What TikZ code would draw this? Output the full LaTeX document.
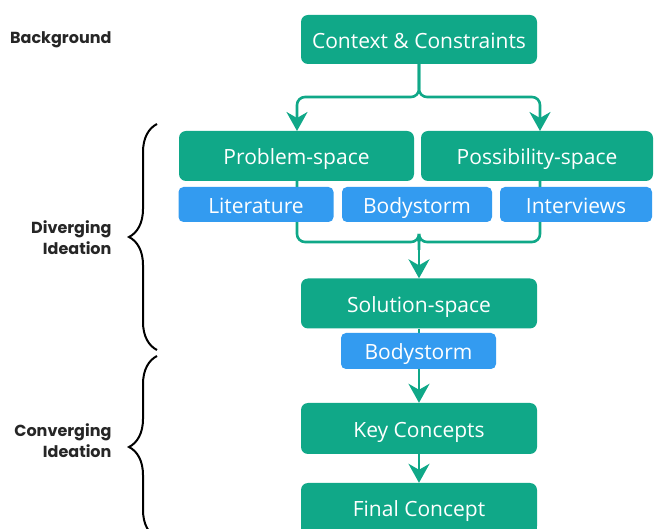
\documentclass[tikz,border=0pt]{standalone}
\usepackage{fontspec}
\setmainfont{Open Sans}
\newfontfamily\labelfont{Poppins}
\usetikzlibrary{arrows.meta,decorations.pathreplacing}
\definecolor{flowgreen}{RGB}{16,168,136}
\definecolor{flowblue}{RGB}{51,155,240}
\tikzset{
  boxtext/.style={text=white, font=\fontsize{21}{24}\selectfont, inner sep=0pt, text height=19pt, text depth=1.5pt},
  stage/.style={boxtext, fill=flowgreen, rounded corners=7pt},
  method/.style={boxtext, fill=flowblue, rounded corners=5pt},
  link/.style={draw=flowgreen, line width=2.6pt, rounded corners=8pt},
  flow/.style={link, -{Stealth[length=19pt, width=21pt, inset=6pt]}},
  phase/.style={font=\labelfont\bfseries\fontsize{16}{21}\selectfont, align=right, anchor=east, text=black!85},
  brace/.style={draw=black, line width=2pt, decorate, decoration={brace, amplitude=28pt, aspect=0.5}}
}
\begin{document}
\begin{tikzpicture}[x=1pt, y=-1pt]
\useasboundingbox (0,0) rectangle (657,529);
\begin{scope}
\clip (0,0) rectangle (657,529);

% stage boxes (green) and method tags (blue)
\node[stage, minimum width=236pt, minimum height=49pt] (ctx) at (419,39.5) {Context \& Constraints};
\node[stage, minimum width=235pt, minimum height=50pt] (prob) at (296.5,156) {Problem-space};
\node[stage, minimum width=232pt, minimum height=50pt] (poss) at (537,156) {Possibility-space};

% connectors that run behind the method tags
\coordinate (split) at (419,97);
\coordinate (merge) at (419,242);
\draw[flow] (ctx.south) -- (split) -| (297,131);
\draw[flow] (ctx.south) -- (split) -| (540,131);
\draw[link] (297,181) -- (297,242) -| (merge) -- (419,250);
\draw[link] (540,181) -- (540,242) -| (merge);

\node[method, minimum width=155pt, minimum height=35pt] (lit) at (256,204.5) {Literature};
\node[method, minimum width=150pt, minimum height=35pt] (body1) at (417,204.5) {Bodystorm};
\node[method, minimum width=152pt, minimum height=35pt] (inter) at (576,204.5) {Interviews};

\node[stage, minimum width=236pt, minimum height=50pt] (sol) at (419,303.5) {Solution-space};
\draw[flow] (merge) -- (sol.north);

\node[stage, minimum width=236pt, minimum height=51pt] (key) at (419,428.5) {Key Concepts};
\draw[link] (sol.south) -- (419,340);
\draw[flow] (419,340) -- (key.north);
\node[method, minimum width=155pt, minimum height=36pt] (body2) at (418.5,351) {Bodystorm};

% the last box runs on past the lower edge
\fill[flowgreen] (301,500) rectangle (537,545);
\node[stage, minimum width=236pt, minimum height=50pt] (fin) at (419,508) {Final Concept};
\draw[flow] (key.south) -- (fin.north);

% phase braces
\coordinate (divtop) at (157,124);
\coordinate (divbot) at (157,350);
\coordinate (contop) at (157,356);
\coordinate (conbot) at (157,538);
\draw[brace] (divbot) -- (divtop);
\draw[brace] (conbot) -- (contop);
\end{scope}

% phase labels
\node[phase] (bg) at (115,40) {Background};
\node[phase] (div) at (115,238) {Diverging\\Ideation};
\node[phase] (con) at (115,441) {Converging\\Ideation};
\end{tikzpicture}
\end{document}
